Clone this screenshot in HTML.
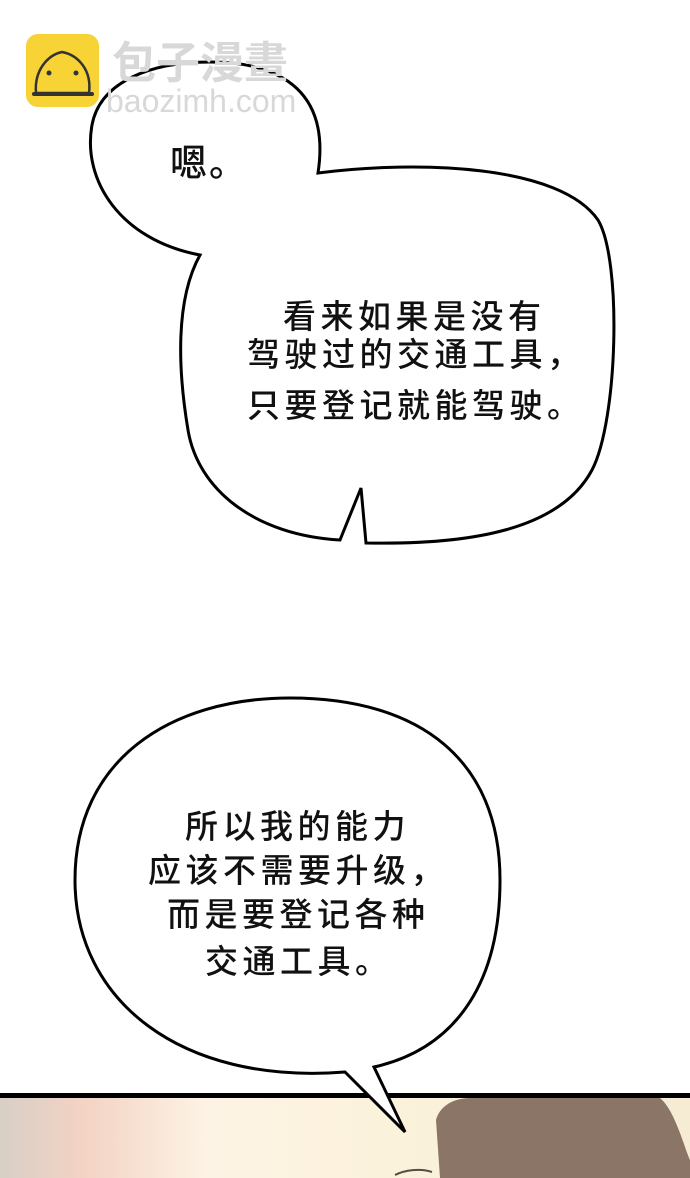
<!DOCTYPE html>
<html><head><meta charset="utf-8"><style>
body{margin:0;width:690px;height:1178px;overflow:hidden;background:#fff;position:relative;font-family:"Liberation Sans","Noto Sans CJK SC",sans-serif}
.t{position:absolute;font-size:33px;letter-spacing:4.5px;color:#111;line-height:40px;white-space:pre;font-family:"Noto Sans CJK SC",sans-serif;font-weight:500}
</style></head><body>
<svg width="690" height="1178" style="position:absolute;left:0;top:0">
<defs><linearGradient id="g" x1="0" x2="1" y1="0" y2="0">
<stop offset="0" stop-color="#d8cfc6"/><stop offset="0.12" stop-color="#f3d3c4"/><stop offset="0.3" stop-color="#fdf3e4"/><stop offset="0.55" stop-color="#fbf2dc"/><stop offset="1" stop-color="#f6ecd4"/></linearGradient></defs>
<rect x="0" y="1096" width="690" height="82" fill="url(#g)"/>
<path d="M440 1178 L436 1120 C440 1105 455 1098 470 1098 L660 1098 C675 1110 685 1150 690 1160 L690 1178 Z" fill="#8a7566"/>
<path d="M395 1175 C405 1170 420 1168 432 1172" stroke="#5a4a40" stroke-width="2" fill="none"/>
<rect x="0" y="1093" width="690" height="5" fill="#000"/>
<path d="M200 255 C120 240 82 180 92 125 C100 82 150 62 210 62 C285 62 330 95 318 173 C420 160 560 165 598 220 C622 260 618 420 592 470 C560 530 470 545 366 543 L361 488 L340 540 C255 535 198 490 188 430 C178 370 175 300 200 255 Z" fill="#fff" stroke="#000" stroke-width="3"/>
<path d="M345 1072 C180 1085 75 1000 75 880 C75 760 170 698 290 698 C420 698 500 760 500 880 C500 990 450 1050 374 1067 L405 1132 Z" fill="#fff" stroke="#000" stroke-width="3"/>
<rect x="26" y="34" width="73" height="73" rx="12" fill="#f8d335"/>
<path d="M36 93 C34 70 48 55 62 52 C78 55 92 70 89 93 Z" fill="none" stroke="#333" stroke-width="2.5"/>
<rect x="32" y="92" width="62" height="4" rx="2" fill="#333"/>
<circle cx="49" cy="73" r="2.5" fill="#333"/><circle cx="76" cy="73" r="2.5" fill="#333"/>
<text x="112" y="78" font-size="44" fill="#d8d8d8" font-family="Noto Sans CJK SC,sans-serif" font-weight="bold">包子漫畫</text>
<text x="106" y="112" font-size="32" fill="#d8d8d8" font-family="Liberation Sans,sans-serif">baozimh.com</text>
</svg>
<div class="t" style="left:170px;top:140px;font-size:37px;letter-spacing:2px">嗯。</div>
<div class="t" style="left:283px;top:294px">看来如果是没有</div>
<div class="t" style="left:247px;top:332px">驾驶过的交通工具，</div>
<div class="t" style="left:247px;top:383px">只要登记就能驾驶。</div>
<div class="t" style="left:185px;top:804px">所以我的能力</div>
<div class="t" style="left:148px;top:848px">应该不需要升级，</div>
<div class="t" style="left:167px;top:892px">而是要登记各种</div>
<div class="t" style="left:205px;top:939px">交通工具。</div>
</body></html>
